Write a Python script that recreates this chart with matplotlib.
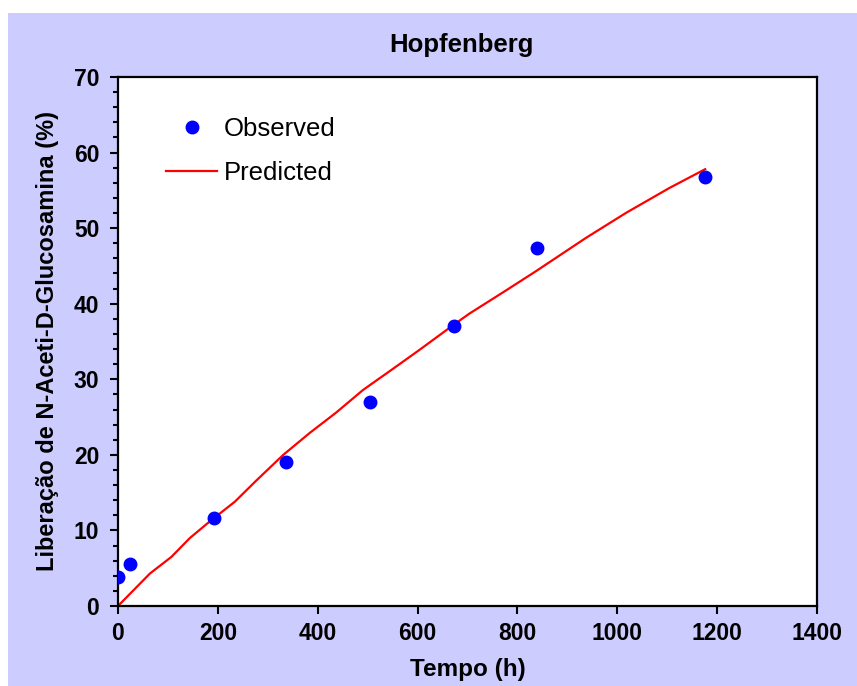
import matplotlib
matplotlib.use('Agg')
import matplotlib.pyplot as plt
from matplotlib.patches import Rectangle
from matplotlib.ticker import MultipleLocator

plt.rcParams['font.family'] = ['Liberation Sans', 'DejaVu Sans']

# Dados observados (tempo em horas, liberação em %)
tempo_obs = [0, 24, 192, 336, 504, 672, 840, 1176]
lib_obs = [3.8, 5.5, 11.6, 19.1, 27.0, 37.1, 47.4, 56.8]

# Curva prevista pelo modelo de Hopfenberg
tempo_pred = [0, 64, 107, 144, 184, 234, 277, 331, 384, 437, 491, 551,
              604, 672, 704, 771, 837, 937, 1017, 1104, 1176]
lib_pred = [0.0, 4.3, 6.5, 9.0, 11.2, 13.8, 16.6, 20.0, 22.9, 25.6, 28.6,
            31.4, 33.9, 37.2, 38.7, 41.5, 44.3, 48.7, 52.0, 55.3, 57.8]

fig = plt.figure(figsize=(8.57, 6.86), dpi=100)
fig.patch.set_facecolor('white')
fig.patches.append(Rectangle((8 / 857, 0), 1, 1 - 13 / 686, transform=fig.transFigure,
                             facecolor='#CCCCFF', edgecolor='none', zorder=-10))

ax = fig.add_axes([118 / 857, 1 - 606 / 686, 699 / 857, 529 / 686])
ax.set_facecolor('white')

ax.plot(tempo_obs, lib_obs, 'o', color='#0000FF', markersize=9, label='Observed', zorder=3)
ax.plot(tempo_pred, lib_pred, '-', color='#FF0000', linewidth=1.6, label='Predicted', zorder=2)

ax.set_xlim(0, 1400)
ax.set_ylim(0, 70)
ax.xaxis.set_major_locator(MultipleLocator(200))
ax.yaxis.set_major_locator(MultipleLocator(10))
ax.yaxis.set_minor_locator(MultipleLocator(2))

for s in ax.spines.values():
    s.set_linewidth(1.6)

ax.tick_params(axis='both', which='major', direction='out', length=5.5, width=1.5,
               labelsize=16.5, pad=6)
ax.tick_params(axis='y', which='minor', direction='out', length=3.5, width=1.5)
ax.tick_params(axis='y', which='major', pad=8)
for lab in ax.get_xticklabels() + ax.get_yticklabels():
    lab.set_fontweight('bold')

ax.set_xlabel('Tempo (h)', fontsize=17.5, fontweight='bold')
ax.set_ylabel('Liberação de N-Aceti-D-Glucosamina (%)', fontsize=17, fontweight='bold')
ax.xaxis.set_label_coords(0.5, -0.098)
ax.yaxis.set_label_coords(-0.084, 0.5)

fig.text(461 / 857, 1 - 45 / 686, 'Hopfenberg', fontsize=18.5, fontweight='bold',
         ha='center', va='center')

ax.legend(loc='upper left', bbox_to_anchor=(0.0687, 0.925), frameon=False,
          fontsize=18.5, handlelength=2.0, handletextpad=0.25, labelspacing=0.78,
          borderpad=0, borderaxespad=0, numpoints=1)

fig.savefig('out.png', dpi=100, facecolor=fig.get_facecolor())
